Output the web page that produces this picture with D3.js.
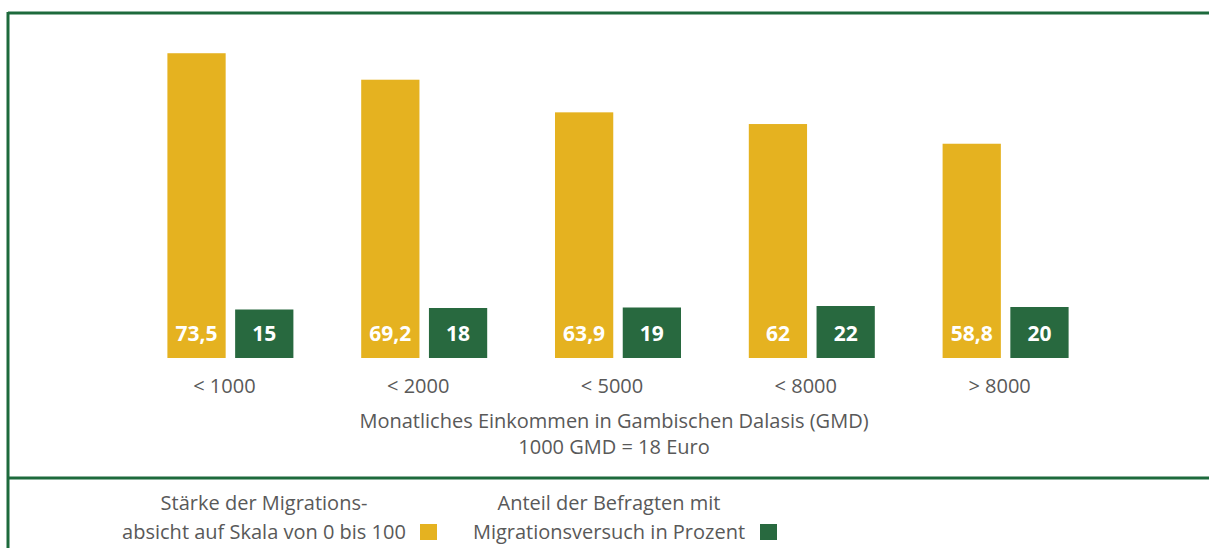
<!DOCTYPE html>
<html lang="de">
<head>
<meta charset="UTF-8">
<title>Migrationsabsicht nach Einkommen</title>
<script src="https://d3js.org/d3.v7.min.js"></script>
<style>
  body { margin: 0; background: #fff; }
  .tick text { font-family: "Open Sans", sans-serif; font-size: 20px; fill: #595959; }
  .caption, .legend { font-family: "Open Sans", sans-serif; font-size: 20px; fill: #595959; text-anchor: middle; }
  .val { font-family: "Open Sans", sans-serif; font-size: 21px; font-weight: bold; fill: #fff; text-anchor: middle; }
</style>
</head>
<body>
<div id="app"></div>
<script>
  var categories = ["< 1000", "< 2000", "< 5000", "< 8000", "> 8000"];
  var staerke = [73.5, 69.2, 63.9, 62, 58.8];   // Skala 0 bis 100
  var anteil = [15, 18, 19, 22, 20];            // Prozent
  var series = ["staerke", "anteil"];
  var colors = { staerke: "#E5B220", anteil: "#28693F" };
  var legendLines = [
    ["Stärke der Migrations-", "absicht auf Skala von 0 bis 100"],
    ["Anteil der Befragten mit", "Migrationsversuch in Prozent"]
  ];

  var width = 1209, height = 548;
  var baseY = 358;

  var svg = d3.select("#app").append("svg")
    .attr("width", width)
    .attr("height", height);

  // Rahmen
  var frame = "#1D6A3C";
  svg.append("line").attr("x1", 8).attr("x2", width).attr("y1", 13).attr("y2", 13)
    .attr("stroke", frame).attr("stroke-width", 3);
  svg.append("line").attr("x1", 8).attr("x2", 8).attr("y1", 12).attr("y2", height)
    .attr("stroke", frame).attr("stroke-width", 3);
  svg.append("line").attr("x1", 8).attr("x2", width).attr("y1", 478).attr("y2", 478)
    .attr("stroke", frame).attr("stroke-width", 3);

  var x0 = d3.scaleBand().domain(categories).range([133.5, 1102.5]);
  var x1 = d3.scaleBand().domain(series)
    .range([x0.bandwidth() / 2 - 63, x0.bandwidth() / 2 + 63])
    .paddingInner(0.14);

  // Skalen (Grafik nicht maßstabsgetreu, Anteil als Beschriftungsfeld)
  var yStaerke = d3.scaleLinear().domain([24, 75]).range([baseY, 44]);
  var yAnteil = d3.scaleLinear().domain([10, 22]).range([baseY - 46, baseY - 52]);

  var rows = categories.map(function (c, i) {
    return { cat: c, staerke: staerke[i], anteil: anteil[i] };
  });

  var g = svg.append("g");
  var groups = g.selectAll(".grp").data(rows).enter().append("g")
    .attr("transform", function (d) { return "translate(" + x0(d.cat) + ",0)"; });

  groups.selectAll("rect").data(function (d) {
    return series.map(function (s) { return { key: s, value: d[s] }; });
  }).enter().append("rect")
    .attr("x", function (d) { return x1(d.key); })
    .attr("width", x1.bandwidth())
    .attr("y", function (d) { return d.key === "staerke" ? yStaerke(d.value) : yAnteil(d.value); })
    .attr("height", function (d) { return baseY - (d.key === "staerke" ? yStaerke(d.value) : yAnteil(d.value)); })
    .attr("fill", function (d) { return colors[d.key]; });

  groups.selectAll("text.val").data(function (d) {
    return series.map(function (s) { return { key: s, value: d[s] }; });
  }).enter().append("text")
    .attr("class", "val")
    .attr("x", function (d) { return x1(d.key) + x1.bandwidth() / 2; })
    .attr("y", 341)
    .text(function (d) { return String(d.value).replace(".", ","); });

  // Achse
  var axis = svg.append("g")
    .attr("transform", "translate(-6," + baseY + ")")
    .call(d3.axisBottom(x0).tickSize(0).tickPadding(21));
  axis.select(".domain").remove();

  svg.append("text").attr("class", "caption").attr("x", 614).attr("y", 428)
    .text("Monatliches Einkommen in Gambischen Dalasis (GMD)");
  svg.append("text").attr("class", "caption").attr("x", 614).attr("y", 454)
    .text("1000 GMD = 18 Euro");

  // Legende
  var legendX = [264, 609];
  var legendSq = [420, 760];
  series.forEach(function (s, i) {
    var lg = svg.append("g");
    legendLines[i].forEach(function (t, j) {
      lg.append("text").attr("class", "legend")
        .attr("x", legendX[i]).attr("y", 510 + j * 29)
        .text(t);
    });
    lg.append("rect").attr("x", legendSq[i]).attr("y", 524)
      .attr("width", 17).attr("height", 16)
      .attr("fill", colors[s]);
  });
</script>
</body>
</html>
